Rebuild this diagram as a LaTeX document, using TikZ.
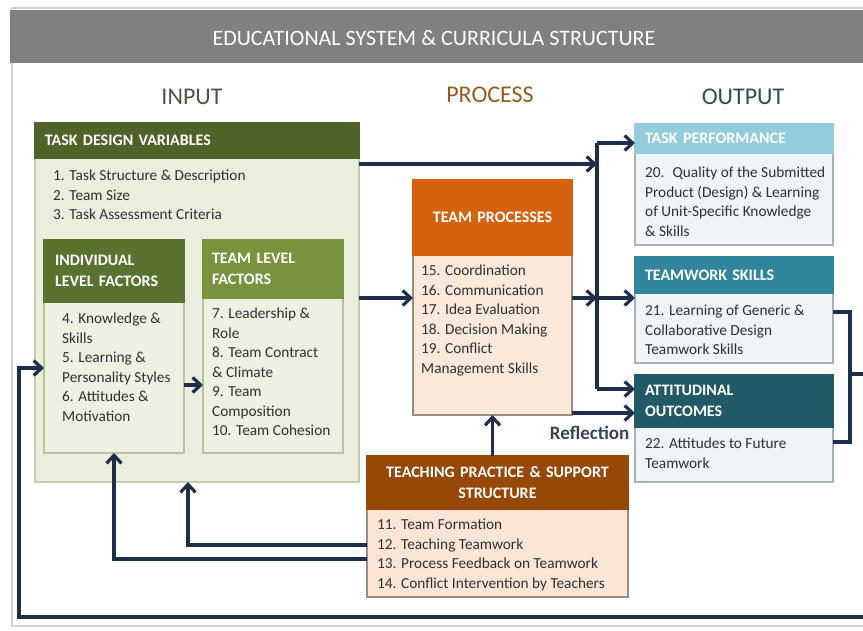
\documentclass[tikz,border=0pt]{standalone}
\usepackage{fontspec}
\setmainfont{Carlito}
\usepackage{tikz}
\usetikzlibrary{arrows.meta}

\definecolor{bannergray}{HTML}{808080}
\definecolor{framegray}{HTML}{D2D2D2}
\definecolor{tdvdark}{HTML}{4F6228}
\definecolor{tdvlight}{HTML}{EAEEDC}
\definecolor{tdvline}{HTML}{C5CCAE}
\definecolor{inddark}{HTML}{5A7230}
\definecolor{teamgreen}{HTML}{77933C}
\definecolor{factlight}{HTML}{EEF1E2}
\definecolor{factline}{HTML}{B9C29C}
\definecolor{procorange}{HTML}{D5620F}
\definecolor{proclight}{HTML}{FCE9DA}
\definecolor{teachbrown}{HTML}{974706}
\definecolor{teachlight}{HTML}{FBE5D4}
\definecolor{brownline}{HTML}{9C8B80}
\definecolor{perfblue}{HTML}{93CDDD}
\definecolor{skillteal}{HTML}{31859C}
\definecolor{attdark}{HTML}{215967}
\definecolor{outlight}{HTML}{EEF4F7}
\definecolor{outgray}{HTML}{A9B1B8}
\definecolor{linknavy}{HTML}{1F2E4A}
\definecolor{textgray}{HTML}{303030}
\definecolor{inputcol}{HTML}{4B5840}
\definecolor{processcol}{HTML}{9A5A1E}
\definecolor{outputcol}{HTML}{2F4B5A}
\definecolor{reflcol}{HTML}{384558}

\newcommand{\itemfont}{\fontsize{15.3}{19.5}\selectfont}
\newcommand{\boxheadfont}{\fontsize{16}{21}\selectfont\bfseries}

\begin{document}
\begin{tikzpicture}[x=1pt,y=-1pt]
        \tikzstyle{boxhead}=[draw, anchor=north west, outer sep=0pt, inner xsep=10pt,
        inner ysep=0pt, text=white, font=\boxheadfont, align=left, line width=1.2pt]
        \tikzstyle{boxbody}=[draw, anchor=north west, outer sep=0pt, inner sep=0pt, line width=1.5pt]
        \tikzstyle{items}=[anchor=north west, inner sep=0pt, align=left, text=textgray, font=\itemfont]
        \tikzstyle{link}=[draw=linknavy, line width=3.2pt, -{Straight Barb[length=8pt,width=15pt]}]
        \tikzstyle{wire}=[draw=linknavy, line width=3.2pt]
        \tikzstyle{column}=[font=\fontsize{24}{28}\selectfont]

        \useasboundingbox (0,0) rectangle (863,630);

        %% Frame and banner
        \draw[framegray, line width=1.2pt] (12,8) rectangle (875,626);
        \fill[bannergray] (10,10) rectangle (875,63);
        \node[text=white, font=\fontsize{22}{26}\selectfont] (title) at (434,38)
        	{EDUCATIONAL SYSTEM \& CURRICULA STRUCTURE};

        %% Column headings
        \node[column, text=inputcol] (input) at (192,97) {INPUT};
        \node[column, text=processcol] (process) at (490,95) {PROCESS};
        \node[column, text=outputcol] (output) at (743,97) {OUTPUT};

        %% Input
        \node[boxbody, draw=tdvline, fill=tdvlight, minimum width=324pt, minimum height=324pt]
        	(tdvbody) at (35,158) {};
        \node[boxhead, draw=tdvdark, fill=tdvdark, text width=304pt, minimum height=35pt]
        	(tdvhead) at (35,123) {TASK DESIGN VARIABLES};
        \node[items] (tdvitems) at (53,167) {\strut 1. Task Structure \& Description\\
        	2. Team Size\\ 3. Task Assessment Criteria};

        % Individual level
        \node[boxbody, draw=factline, fill=factlight, minimum width=140pt, minimum height=151pt]
        	(indbody) at (44,302) {};
        \node[boxhead, draw=inddark, fill=inddark, inner xsep=11pt, text width=118pt, minimum height=62pt]
        	(indhead) at (44,240) {INDIVIDUAL\\ LEVEL FACTORS};
        \node[items] (inditems) at (62,310) {\strut 4. Knowledge \&\\ Skills\\ 5. Learning \&\\
        	Personality Styles\\ 6. Attitudes \&\\ Motivation};

        % Team level
        \node[boxbody, draw=factline, fill=factlight, minimum width=140pt, minimum height=155pt]
        	(teambody) at (203,298) {};
        \node[boxhead, draw=teamgreen, fill=teamgreen, inner xsep=9pt, text width=122pt, minimum height=58pt]
        	(teamhead) at (203,240) {TEAM LEVEL\\ FACTORS};
        \node[items] (teamitems) at (212,305) {\strut 7. Leadership \&\\ Role\\ 8. Team Contract\\
        	\& Climate\\ 9. Team\\ Composition\\ 10. Team Cohesion};

        %% Process
        \node[boxbody, draw=brownline, fill=proclight, minimum width=159pt, minimum height=160pt]
        	(procbody) at (413,255) {};
        \node[boxhead, draw=procorange, fill=procorange, align=center, text width=139pt, minimum height=75pt]
        	(prochead) at (413,180) {TEAM PROCESSES};
        \node[items] (procitems) at (421,262) {\strut 15. Coordination\\ 16. Communication\\
        	17. Idea Evaluation\\ 18. Decision Making\\ 19. Conflict\\ Management Skills};

        % Teaching practice
        \node[boxbody, draw=brownline, fill=teachlight, minimum width=261pt, minimum height=88pt]
        	(teachbody) at (367,509) {};
        \node[boxhead, draw=teachbrown, fill=teachbrown, align=center, text width=241pt, minimum height=53pt]
        	(teachhead) at (367,456) {TEACHING PRACTICE \& SUPPORT\\ STRUCTURE};
        \node[items] (teachitems) at (377,516) {\strut 11. Team Formation\\ 12. Teaching Teamwork\\
        	13. Process Feedback on Teamwork\\ 14. Conflict Intervention by Teachers};

        %% Output
        \node[boxbody, draw=outgray, fill=outlight, minimum width=198pt, minimum height=92pt]
        	(perfbody) at (635,153) {};
        \node[boxhead, draw=perfblue, fill=perfblue, text width=178pt, minimum height=29pt]
        	(perfhead) at (635,124) {TASK PERFORMANCE};
        \node[items] (perfitems) at (645,164) {\strut 20.~ Quality of the Submitted\\
        	Product (Design) \& Learning\\ of Unit-Specific Knowledge\\ \& Skills};

        \node[boxbody, draw=outgray, fill=outlight, minimum width=198pt, minimum height=70pt]
        	(skillbody) at (635,293) {};
        \node[boxhead, draw=skillteal, fill=skillteal, text width=178pt, minimum height=36pt]
        	(skillhead) at (635,257) {TEAMWORK SKILLS};
        \node[items] (skillitems) at (645,302) {\strut 21. Learning of Generic \&\\
        	Collaborative Design\\ Teamwork Skills};

        \node[boxbody, draw=outgray, fill=outlight, minimum width=198pt, minimum height=55pt]
        	(attbody) at (635,427) {};
        \node[boxhead, draw=attdark, fill=attdark, text width=178pt, minimum height=52pt]
        	(atthead) at (635,375) {ATTITUDINAL\\ OUTCOMES};
        \node[items] (attitems) at (645,435) {\strut 22. Attitudes to Future\\ Teamwork};

        %% Connectors
        \coordinate (busA) at (597,164);
        \coordinate (bustop) at (597,143);
        \coordinate (busmid) at (597,298);
        \coordinate (busbot) at (597,389);
        \coordinate (refl) at ([yshift=2pt]procbody.south east);
        \coordinate (indout) at ([yshift=-7.5pt]indbody.east);
        \coordinate (brk) at (850,374);
        \coordinate (loopA) at (870,374);
        \coordinate (loopB) at (870,617);
        \coordinate (loopC) at (19,617);

        \path[link] ([yshift=-6pt]tdvbody.north east) -- (busA);
        \path[link] (tdvbody.east |- busmid) -- (procbody.west |- busmid);
        \path[link] (procbody.east |- busmid) -- (busmid);
        \path[link] (busmid) -- (skillhead.west |- busmid);
        \path[wire] (bustop) -- (busbot);
        \path[link] (bustop) -- (perfhead.west |- bustop);
        \path[link] (busbot) -- (atthead.west |- busbot);
        \path[link] (refl) -- node[pos=0.28, below=8pt, text=reflcol,
        	font=\fontsize{19}{22}\selectfont\bfseries] (refltext) {Reflection} (refl -| atthead.west);

        \path[link] (procbody.south |- teachhead.north) -- (procbody.south);
        \path[link] ([yshift=8pt]teachbody.west) -| ([xshift=-9pt]tdvbody.south);
        \path[link] ([yshift=-6pt]teachbody.west) -| (indbody.south);
        \path[link] (indout) -- (teambody.west |- indout);

        % Feedback loop from the outcomes
        \path[wire] ([yshift=16pt]skillbody.east) -| (brk) |- ([yshift=12.5pt]attbody.east);
        \path[link] (brk) -- (loopA) -- (loopB) -- (loopC) |- ([yshift=9.5pt]indbody.west);
\end{tikzpicture}
\end{document}
